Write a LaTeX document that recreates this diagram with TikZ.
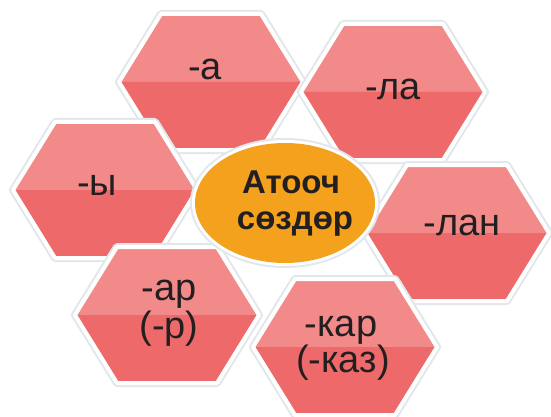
\documentclass[tikz,border=0pt]{standalone}
\usepackage{fontspec}
\setmainfont{Liberation Sans}
\definecolor{hextop}{HTML}{F28A89}
\definecolor{hexbot}{HTML}{EE6A6A}
\definecolor{orng}{HTML}{F4A21E}
\definecolor{txt}{HTML}{231F20}
\definecolor{edgegray}{HTML}{E2E7EA}
\newcommand\drawhex[2]{%
  \begin{scope}[shift={(#1,#2)}]
    \draw[draw=edgegray,line width=8pt,line join=round] (-92,0)--(-50,-68)--(50,-68)--(92,0)--(50,68)--(-50,68)--cycle;
    \fill[hextop] (-92,0)--(-50,-68)--(50,-68)--(92,0)--cycle;
    \fill[hexbot] (-92,0)--(92,0)--(50,68)--(-50,68)--cycle;
    \draw[draw=white,line width=4pt,line join=round] (-92,0)--(-50,-68)--(50,-68)--(92,0)--(50,68)--(-50,68)--cycle;
  \end{scope}}
\tikzset{
  lbl/.style={text=txt,anchor=base,inner sep=0pt,font=\fontsize{38}{42}\selectfont},
  clbl/.style={text=txt,anchor=base,inner sep=0pt,font=\fontsize{33}{38}\selectfont\bfseries}
}
\begin{document}
\begin{tikzpicture}[x=1pt,y=-1pt]
\useasboundingbox[fill=white] (0,0) rectangle (551,417);
\drawhex{211}{82}
\drawhex{393}{92}
\drawhex{105}{190}
\drawhex{457}{233}
\drawhex{167}{315}
\drawhex{345}{347}
% centre ellipse
\fill[edgegray] (285,203) ellipse [x radius=95, y radius=65];
\fill[white] (285,203) ellipse [x radius=93, y radius=63];
\fill[orng] (285,203) ellipse [x radius=90, y radius=60];
% labels
\node[lbl] (a) at (205,80) {-а};
\node[lbl] (la) at (393,100) {-ла};
\node[lbl] (y) at (97,195) {-ы};
\node[lbl] (lan) at (462,235) {-лан};
\node[lbl] (ar1) at (169,300) {-ар};
\node[lbl] (ar2) at (169,338) {(-р)};
\node[lbl] (kar1) at (341,336) {-кар};
\node[lbl] (kar2) at (343,372) {(-каз)};
\node[clbl] (c1) at (291,193) {Атооч};
\node[clbl] (c2) at (295,229) {сөздөр};
\end{tikzpicture}
\end{document}
